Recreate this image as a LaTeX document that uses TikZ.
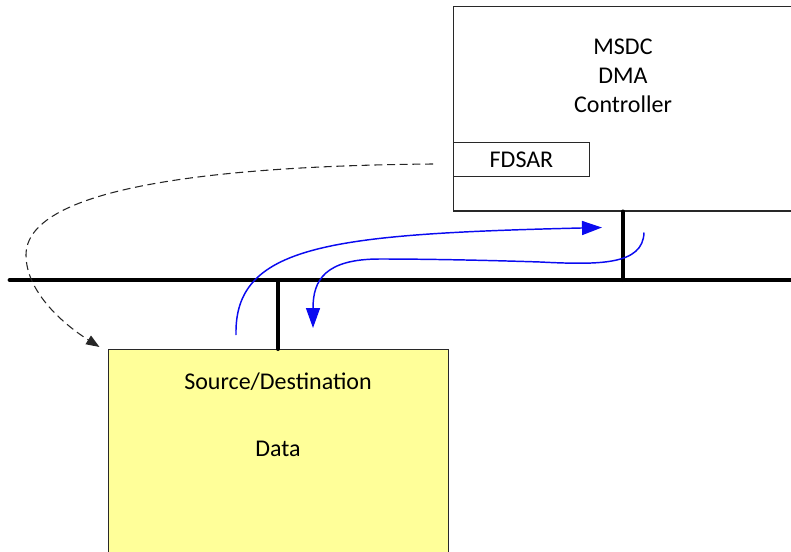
\documentclass[tikz,border=0pt]{standalone}
\usepackage{fontspec}
\setmainfont{Carlito}
\usepackage{tikz}
\usetikzlibrary{arrows.meta,positioning,calc}
\definecolor{dataYellow}{RGB}{255,255,153}
\definecolor{flowBlue}{RGB}{10,10,240}
\definecolor{edgeGray}{RGB}{40,40,40}

\begin{document}
\begin{tikzpicture}[
  x=0.75pt,y=-0.75pt,
  every node/.style={font=\fontsize{18}{21.75}\selectfont,align=center},
  ctrlbox/.style={draw=edgeGray,line width=0.75pt,fill=white,minimum width=255pt,minimum height=153pt,inner sep=0pt},
  regbox/.style={draw=edgeGray,line width=0.75pt,fill=white,minimum width=102pt,minimum height=25.5pt,inner sep=0pt},
  databox/.style={draw=edgeGray,line width=0.75pt,fill=dataYellow,minimum width=255pt,minimum height=210pt,inner sep=0pt},
  lbl/.style={inner sep=0pt},
  bus/.style={line width=3.6pt,line cap=round},
  tap/.style={line width=3pt,line cap=round},
  ptr/.style={-{Triangle[length=10pt,width=7.5pt]},line width=0.8pt,dash pattern=on 6pt off 3.5pt,black!85},
  flow/.style={-{Triangle[length=15pt,width=10.5pt]},line width=1.1pt,flowBlue}]
\useasboundingbox (0,0) rectangle (791,552);
\clip (0,0) rectangle (791,552);
% controller and its register
\node[ctrlbox] (ctrl) at (623,109) {};
\node[lbl] (ctrltxt) at (623,76) {MSDC\\DMA\\Controller};
\node[regbox,anchor=west] (fdsar) at (453,160) {FDSAR};
% memory block
\node[databox,anchor=north] (src) at (278,349) {};
\node[lbl] (srctxt) at (278,382) {Source/Destination};
\node[lbl] (datatxt) at (278,449) {Data};
% system bus
\coordinate (busL) at (10,280);
\coordinate (busR) at (800,280);
\draw[bus] (busL) -- (busR);
\draw[tap] (ctrl.south) -- (ctrl.south |- busL);
\draw[tap] (src.north) -- (src.north |- busL);
% descriptor pointer
\draw[ptr] ($(fdsar.west)+(-20,4)$) .. controls (200,166) and (26,190) .. (26,255)
  .. controls (26,290) and (60,322) .. ($(src.north west)+(-8,-2)$);
% data moves
\draw[flow] ($(src.north)+(-42,-14)$) .. controls (234,245) and (330,234) .. ($(ctrl.south)+(-21,16)$);
\draw[flow] ($(ctrl.south)+(21,21)$) .. controls (643,265) and (600,265) .. (540,262)
  .. controls (480,260) and (420,259) .. (380,259)
  .. controls (325,259) and (313,280) .. ($(src.north)+(35,-21)$);
\end{tikzpicture}
\end{document}
